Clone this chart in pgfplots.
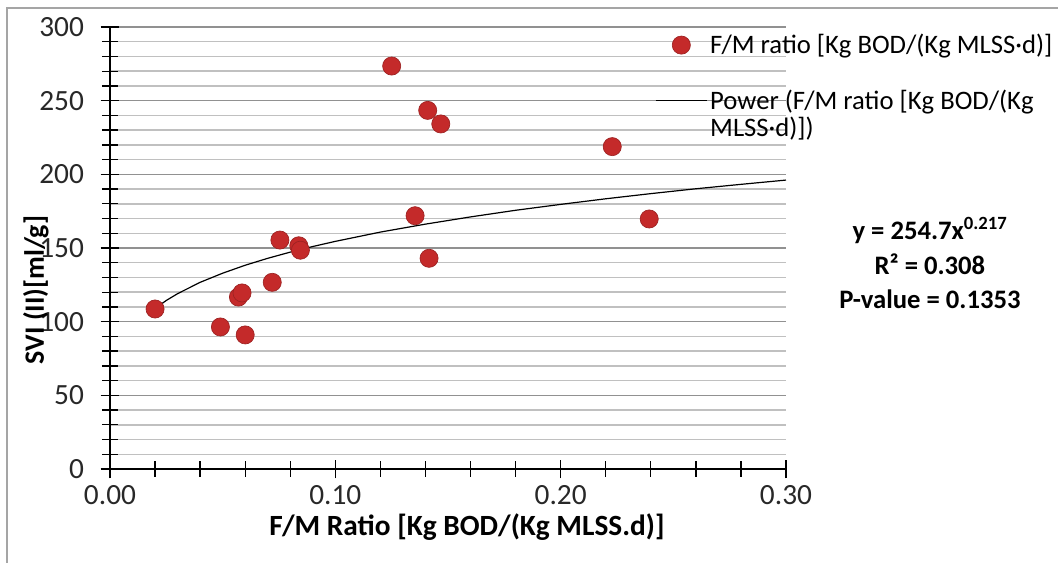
\documentclass[border=0pt]{standalone}
\usepackage{fontspec}
\setmainfont{Carlito}
\usepackage{pgfplots}
\pgfplotsset{compat=1.18}
\definecolor{ptred}{RGB}{196,42,42}
\definecolor{gridminor}{RGB}{192,192,192}
\definecolor{gridmajor}{RGB}{145,145,145}
\definecolor{framegray}{RGB}{165,165,165}
\definecolor{ticktext}{RGB}{40,40,40}
\pgfplotsset{
  dotlegend/.style={legend image code/.code={\draw[##1] plot coordinates {(0.675cm,0cm)};}},
  linelegend/.style={legend image code/.code={\draw[##1] (0cm,0cm) -- (1.35cm,0cm);}},
}

\begin{document}
\begin{tikzpicture}
\path[use as bounding box] (-82.5pt,-70.5pt) rectangle (711pt,351.75pt);
\draw[framegray, line width=2pt] (-77.25pt,-70.5pt) -- (-77.25pt,345.75pt) -- (711pt,345.75pt);
\begin{axis}[
  at={(0,0)}, anchor=south west,
  scale only axis, width=507pt, height=331.5pt,
  xmin=0, xmax=0.30, ymin=0, ymax=300,
  clip=false,
  axis lines*=left,
  axis line style={line width=1pt},
  xtick={0,0.1,0.2,0.3}, ytick={0,50,...,300},
  minor x tick num=4, minor y tick num=4,
  tick align=center, major tick length=14pt, minor tick length=12pt,
  every tick/.style={black, line width=1pt},
  ymajorgrids, yminorgrids,
  major grid style={gridmajor, line width=1.1pt},
  minor grid style={gridminor, line width=1.1pt},
  scaled x ticks=false,
  /pgf/number format/assume math mode=true,
  tick label style={font=\fontsize{22}{26}\selectfont, text=ticktext},
  yticklabel style={xshift=-9pt},
  xticklabel style={yshift=-2pt, /pgf/number format/.cd, fixed, fixed zerofill, precision=2},
  xlabel={\bfseries F/M Ratio [Kg BOD/(Kg MLSS.d)]},
  ylabel={\bfseries SVI (II)[ml/g]},
  xlabel style={font=\fontsize{22}{26}\selectfont, at={(axis description cs:0.528,-0.131)}, anchor=center},
  ylabel style={font=\fontsize{21}{26}\selectfont, at={(axis description cs:-0.1095,0.405)}, anchor=center},
  legend style={at={(axis description cs:0.806,0.99)}, anchor=north west, draw=none, fill=none,
    font=\fontsize{20}{23}\selectfont, inner sep=0pt, cells={anchor=west}},
]
% F/M ratio vs SVI (II)
\addplot[only marks, mark=*, mark size=6.8pt, mark options={fill=ptred, draw=ptred!80!black, line width=0.5pt}, dotlegend]
  coordinates {
  (0.020,108.6) (0.049,96.4) (0.060,91.0) (0.057,116.7) (0.0586,119.5)
  (0.072,126.7) (0.0754,155.4) (0.0838,151.5) (0.0845,148.5)
  (0.125,273.5) (0.141,243.4) (0.1468,234.2) (0.1354,171.9) (0.1416,143.0)
  (0.2229,218.8) (0.2393,169.7)
};
\addlegendentry{F/M ratio [Kg BOD/(Kg MLSS·d)]}
\addlegendimage{empty legend}
\addlegendentry{\strut}
% power trend line y = 254.7 x^0.217
\addplot[black, line width=0.9pt, linelegend]
  coordinates {
  (0.02,109.0) (0.025,114.4) (0.03,119.0) (0.04,126.7) (0.05,132.9) (0.06,138.3)
  (0.07,143.0) (0.08,147.2) (0.09,151.0) (0.10,154.5) (0.12,160.8) (0.14,166.2)
  (0.16,171.1) (0.18,175.6) (0.20,179.6) (0.22,183.4) (0.24,186.9) (0.26,190.2)
  (0.28,193.2) (0.30,196.1)
};
\addlegendentry{Power (F/M ratio [Kg BOD/(Kg}
\addlegendimage{empty legend}
\addlegendentry{MLSS·d)])}
\node[font=\bfseries\fontsize{20}{26}\selectfont, align=center, anchor=center]
  at (axis description cs:1.213,0.466)
  {y = 254.7x\textsuperscript{0.217}\\R² = 0.308\\P-value = 0.1353};
\end{axis}
\end{tikzpicture}
\end{document}
